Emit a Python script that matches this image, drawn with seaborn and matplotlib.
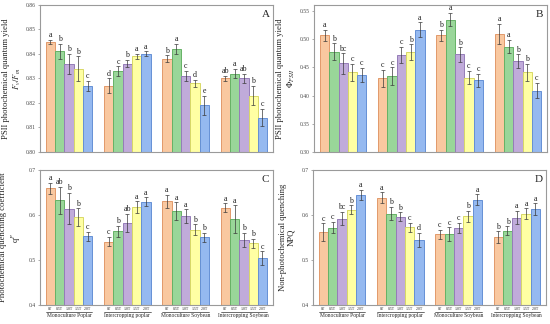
import numpy as np
import pandas as pd
import seaborn as sns
import matplotlib.pyplot as plt
from matplotlib.transforms import blended_transform_factory

sns.set_theme(style='white')
plt.rcParams['font.family'] = ['Liberation Serif', 'DejaVu Serif']
plt.rcParams['mathtext.fontset'] = 'stix'

groups = ['Monoculture Poplar', 'Intercropping poplar', 'Monoculture Soybean', 'Intercropping Soybean']
treatments = ['0T', '0.5T', '1.0T', '1.5T', '2.0T']
fills = ['#F9C8A0', '#99D699', '#C0ABDA', '#FFFFA3', '#95B9F0']
edges = ['#E2996A', '#66B266', '#957DB8', '#D8D866', '#6590D5']

# Fv/Fm
fvfm_mean = [[0.845, 0.841, 0.836, 0.834, 0.827],
             [0.827, 0.833, 0.836, 0.839, 0.840],
             [0.838, 0.842, 0.831, 0.828, 0.819],
             [0.830, 0.832, 0.830, 0.823, 0.814]]
fvfm_err = [[0.0008, 0.003, 0.004, 0.005, 0.002],
            [0.003, 0.002, 0.0015, 0.001, 0.001],
            [0.0015, 0.002, 0.002, 0.0015, 0.004],
            [0.001, 0.002, 0.002, 0.004, 0.0035]]
fvfm_letters = [['a', 'b', 'b', 'b', 'c'],
                ['d', 'c', 'b', 'a', 'a'],
                ['b', 'a', 'c', 'd', 'e'],
                ['ab', 'a', 'ab', 'b', 'c']]

# PhiPSII
phi_mean = [[0.507, 0.478, 0.457, 0.441, 0.437],
            [0.431, 0.434, 0.472, 0.477, 0.517],
            [0.507, 0.535, 0.473, 0.432, 0.427],
            [0.509, 0.487, 0.461, 0.441, 0.409]]
phi_err = [[0.010, 0.015, 0.018, 0.015, 0.012],
           [0.015, 0.016, 0.015, 0.014, 0.013],
           [0.010, 0.012, 0.013, 0.012, 0.012],
           [0.018, 0.012, 0.012, 0.015, 0.014]]
phi_letters = [['a', 'b', 'bc', 'c', 'c'],
               ['c', 'c', 'c', 'b', 'a'],
               ['b', 'a', 'b', 'c', 'c'],
               ['a', 'a', 'b', 'b', 'c']]

# qP
qp_mean = [[0.659, 0.632, 0.614, 0.595, 0.553],
           [0.541, 0.564, 0.582, 0.617, 0.629],
           [0.630, 0.608, 0.598, 0.567, 0.550],
           [0.616, 0.591, 0.545, 0.537, 0.504]]
qp_err = [[0.012, 0.030, 0.035, 0.020, 0.010],
          [0.010, 0.012, 0.020, 0.013, 0.010],
          [0.015, 0.020, 0.015, 0.012, 0.010],
          [0.010, 0.030, 0.015, 0.010, 0.015]]
qp_letters = [['a', 'ab', 'b', 'b', 'c'],
              ['c', 'b', 'ab', 'a', 'a'],
              ['a', 'a', 'a', 'b', 'b'],
              ['a', 'a', 'b', 'b', 'c']]

# NPQ
npq_mean = [[0.562, 0.572, 0.592, 0.611, 0.644],
            [0.638, 0.603, 0.596, 0.573, 0.545],
            [0.557, 0.558, 0.571, 0.597, 0.634],
            [0.551, 0.565, 0.594, 0.603, 0.613]]
npq_err = [[0.020, 0.013, 0.015, 0.010, 0.012],
           [0.012, 0.015, 0.010, 0.010, 0.015],
           [0.010, 0.015, 0.012, 0.012, 0.012],
           [0.013, 0.010, 0.015, 0.012, 0.013]]
npq_letters = [['c', 'c', 'bc', 'b', 'a'],
               ['a', 'b', 'b', 'c', 'd'],
               ['c', 'c', 'c', 'b', 'a'],
               ['b', 'b', 'a', 'a', 'a']]

panels = [
    ('A', fvfm_mean, fvfm_err, fvfm_letters, (0.80, 0.86), np.arange(0.80, 0.861, 0.01), '{:.2f}',
     'PSII photochemical quantum yield\n$F_v/F_m$', [0.0727, 0.531, 0.4236, 0.454], False),
    ('B', phi_mean, phi_err, phi_letters, (0.30, 0.561), np.arange(0.30, 0.551, 0.05), '{:.2f}',
     'PSII photochemical quantum yield\n$\\Phi_{PSII}$', [0.571, 0.531, 0.4236, 0.454], False),
    ('C', qp_mean, qp_err, qp_letters, (0.40, 0.70), np.arange(0.4, 0.71, 0.1), '{:.1f}',
     'Photochemical quenching coefficient\nq$^P$', [0.0727, 0.058, 0.4236, 0.418], True),
    ('D', npq_mean, npq_err, npq_letters, (0.40, 0.70), np.arange(0.4, 0.71, 0.1), '{:.1f}',
     'Non-photochemical quenching\nNPQ', [0.569, 0.058, 0.4236, 0.418], True),
]

fig = plt.figure(figsize=(5.5, 3.24), dpi=100)

for tag, mean, err, letters, ylim, yticks, fmt, ylabel, rect, bottom in panels:
    ax = fig.add_axes(rect)
    df = pd.DataFrame({
        'group': np.repeat(groups, 5),
        'treatment': treatments * 4,
        'value': np.ravel(mean),
    })
    sns.barplot(data=df, x='group', y='value', hue='treatment', hue_order=treatments,
                order=groups, palette=fills, saturation=1, errorbar=None, width=0.8,
                legend=False, ax=ax)
    bar_conts = list(ax.containers)
    centers = []
    for i, cont in enumerate(bar_conts):
        for j, bar in enumerate(cont):
            bar.set_edgecolor(edges[i])
            bar.set_linewidth(0.7)
            x = bar.get_x() + bar.get_width() / 2
            m = mean[j][i]
            e = err[j][i]
            ax.errorbar(x, m, yerr=e, fmt='none', ecolor='#3a3a3a', elinewidth=0.5,
                        capsize=1.2, capthick=0.5, zorder=5)
            ax.text(x, m + e + (ylim[1] - ylim[0]) * 0.004, letters[j][i], ha='center',
                    va='bottom', fontsize=5.8, color='#222222')
            centers.append((j, i, x, bar.get_width()))
    ax.set_ylim(*ylim)
    ax.set_xlim(-0.5, 3.5)
    ax.set_yticks(yticks)
    ax.set_yticklabels([fmt.format(t) for t in yticks], fontsize=4.0, color='#444444')
    ax.tick_params(axis='y', length=1.8, width=0.5, color='#888888', pad=1.2, left=True)
    ax.set_ylabel(ylabel, fontsize=6.2, linespacing=1.2)
    ax.yaxis.set_label_coords(-0.074, 0.5)
    ax.set_xlabel('')
    for sp in ax.spines.values():
        sp.set_color('#9a9a9a')
        sp.set_linewidth(0.8)
    ax.text(0.985, 0.965, tag, transform=ax.transAxes, ha='right', va='top', fontsize=8)
    if bottom:
        centers.sort(key=lambda c: c[2])
        ax.set_xticks([c[2] for c in centers])
        ax.set_xticklabels([treatments[c[1]] for c in centers], fontsize=2.8)
        ax.tick_params(axis='x', length=0, pad=1.2)
        trans = blended_transform_factory(ax.transData, ax.transAxes)
        for g, name in enumerate(groups):
            xs = [c for c in centers if c[0] == g]
            x0 = xs[0][2] - xs[0][3] / 2
            x1 = xs[-1][2] + xs[-1][3] / 2
            ax.plot([x0, x1], [-0.05, -0.05], transform=trans, clip_on=False,
                    color='#333333', lw=0.5)
            ax.text(g, -0.06, name, transform=trans, ha='center', va='top', fontsize=4)
    else:
        ax.set_xticks([])

fig.savefig('out.png', dpi=100)
